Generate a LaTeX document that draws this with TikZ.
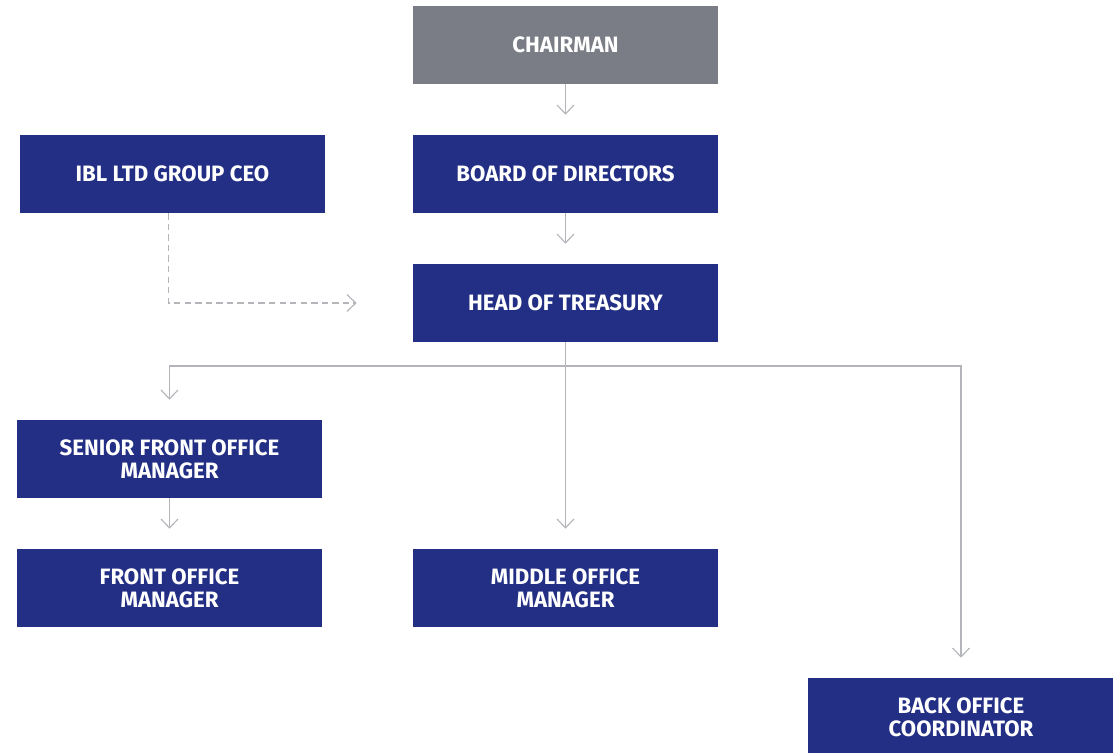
\documentclass[tikz,border=0pt]{standalone}
\usepackage{fontspec}
\setmainfont{Fira Sans}
\usetikzlibrary{arrows.meta}

\definecolor{iblblue}{HTML}{222F84}
\definecolor{iblgray}{HTML}{7A7D85}
\definecolor{linkgray}{HTML}{B4B5BA}

\begin{document}
\begin{tikzpicture}[x=0.025cm, y=-0.025cm,
  post/.style={align=center,minimum width=7.625cm,minimum height=1.95cm,inner sep=0pt,
    fill=iblblue,text=white,font=\fontsize{15.8}{16.6}\selectfont\bfseries},
  link/.style={draw=linkgray,line width=0.8pt,shorten >=0.5cm,
    -{Straight Barb[length=0.22cm,width=0.42cm,line width=0.8pt]}}]

\useasboundingbox (0,0) rectangle (1113,753);

\node (chairman) at (565.5, 45) [post,fill=iblgray] {CHAIRMAN};
\node (ceo) at (172.5, 174) [post] {IBL LTD GROUP CEO};
\node (board) at (565.5, 174) [post] {BOARD OF DIRECTORS};
\node (head) at (565.5, 303) [post] {HEAD OF TREASURY};
\node (sfom) at (169.5, 459) [post] {SENIOR FRONT OFFICE\\MANAGER};
\node (fom) at (169.5, 588) [post] {FRONT OFFICE\\MANAGER};
\node (mom) at (565.5, 588) [post] {MIDDLE OFFICE\\MANAGER};
\node (boc) at (961, 717) [post] {BACK OFFICE\\COORDINATOR};

% reporting lines
\draw[link] (chairman) -- (board);
\draw[link] (board) -- (head);
\draw[link,dash pattern=on 4.5pt off 3pt,shorten >=1.4cm] ([xshift=-0.09cm]ceo.south) |- (head.west);

\coordinate (split) at (565.5, 366);
\draw[link] (head) -- (mom);
\draw[link] (head.south) -- (split) -| (sfom.north);
\draw[link] (split) -| (boc.north);
\draw[link] (sfom) -- (fom);

\end{tikzpicture}
\end{document}
